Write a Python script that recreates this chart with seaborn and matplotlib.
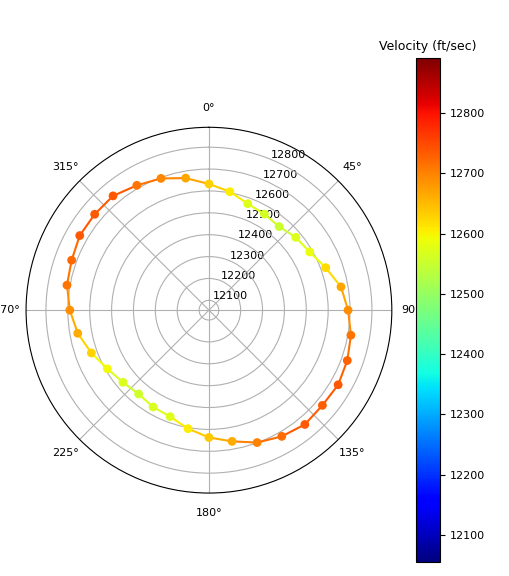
import numpy as np
import pandas as pd
import matplotlib
matplotlib.use("Agg")
import matplotlib.pyplot as plt
import seaborn as sns

# heading (deg) and velocity (ft/sec)
angle_deg = list(range(0, 360, 10))
velocity = [12632, 12605, 12573, 12562, 12554, 12573, 12587, 12623, 12668, 12691,
            12714, 12728, 12737, 12732, 12737, 12721, 12699, 12664, 12637, 12605,
            12573, 12566, 12555, 12568, 12591, 12627, 12664, 12691, 12714, 12723,
            12737, 12737, 12737, 12714, 12696, 12668]
vmin, vmax = 12055, 12891

df = pd.DataFrame({"theta": np.deg2rad(angle_deg), "v": velocity})
cmap = matplotlib.colormaps["jet"]
norm = matplotlib.colors.Normalize(vmin=vmin, vmax=vmax)

fig = plt.figure(figsize=(5.09, 5.76), dpi=100)
ax = fig.add_axes([0.051, 0.144, 0.719, 0.635], projection="polar")
ax.set_theta_zero_location("N")
ax.set_theta_direction(-1)

# line segments coloured by the starting point, closing the loop
n = len(df)
for i in range(n):
    j = (i + 1) % n
    t0, t1 = df.theta[i], df.theta[j]
    if j == 0:
        t1 = t1 + 2 * np.pi
    ax.plot([t0, t1], [df.v[i], df.v[j]], color=cmap(norm(df.v[i])), lw=1.5, zorder=2)

sns.scatterplot(data=df, x="theta", y="v", hue="v", palette=cmap, hue_norm=norm,
                s=40, edgecolor="none", legend=False, ax=ax, zorder=3)
ax.set_xlabel("")
ax.set_ylabel("")
ax.set_rlim(vmin, vmax)
ax.set_rticks([12100, 12200, 12300, 12400, 12500, 12600, 12700, 12800])
ax.set_rlabel_position(22.5)
ax.tick_params(labelsize=8)
ax.grid(True, color="#b0b0b0", lw=0.8)

cax = fig.add_axes([0.817, 0.024, 0.047, 0.875])
sm = matplotlib.cm.ScalarMappable(norm=norm, cmap=cmap)
cb = fig.colorbar(sm, cax=cax)
cb.ax.tick_params(labelsize=8)
cax.set_title("Velocity (ft/sec)", fontsize=9)

fig.savefig("out.png", dpi=100)
